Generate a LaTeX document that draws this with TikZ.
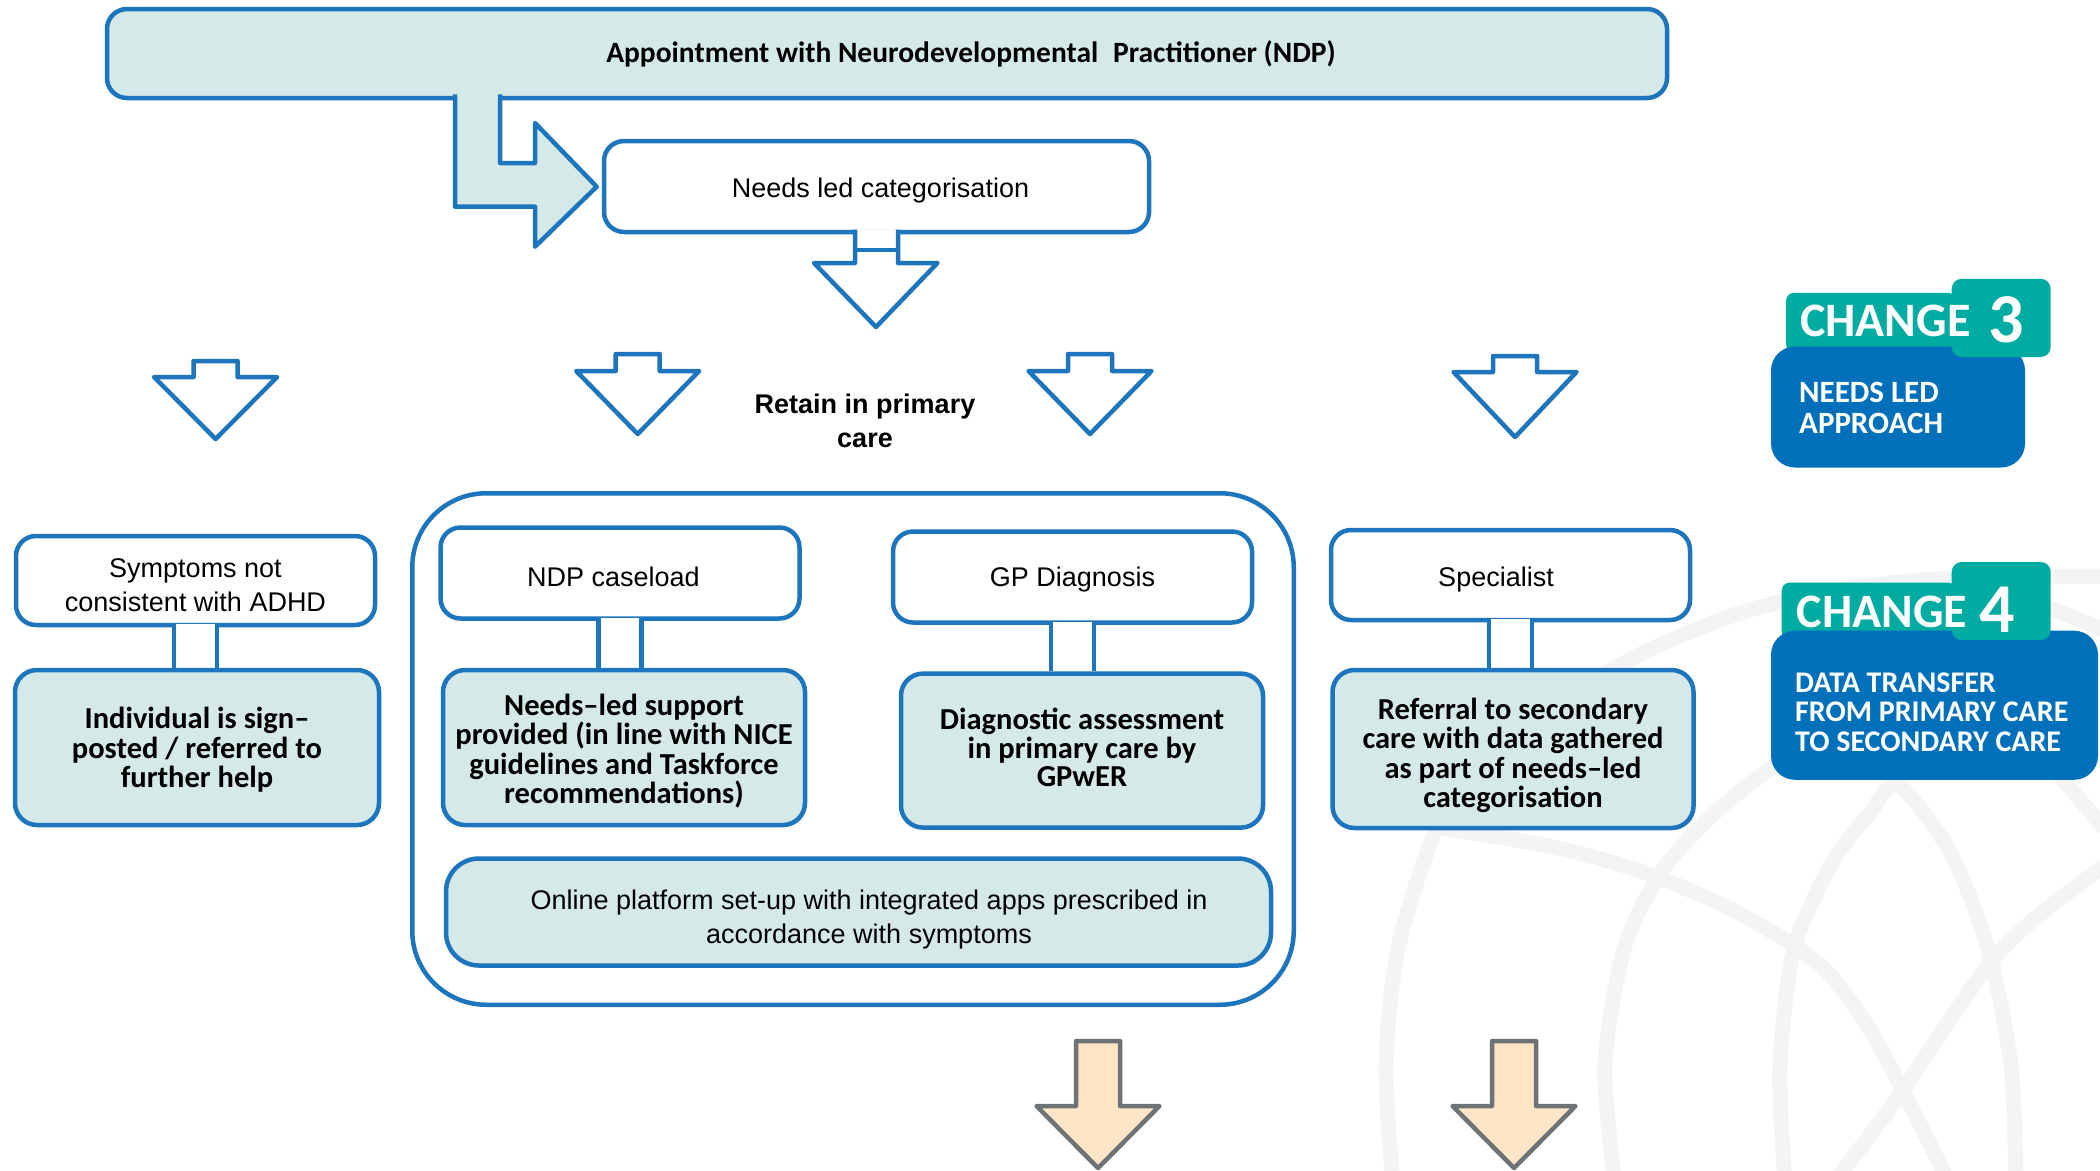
\documentclass[tikz,border=0pt]{standalone}
\usepackage{fontspec}
\setmainfont{Liberation Sans}
\newfontfamily\calib{Carlito}
\usetikzlibrary{calc}

\definecolor{bordblue}{HTML}{1D75BD}
\definecolor{paleteal}{HTML}{D5EAE8}
\definecolor{badgeblue}{HTML}{0070BA}
\definecolor{badgeteal}{HTML}{00ACA2}
\definecolor{peach}{HTML}{FDE6C8}
\definecolor{arrowgray}{HTML}{6E7377}
\definecolor{wmgray}{HTML}{F4F4F4}

\newcommand\plainsize{\fontsize{27}{33.5}\selectfont}
\newcommand\boldsize{\calib\bfseries\fontsize{30.5}{29.5}\selectfont}

% two-sided stem joining a box to the box below it
\newcommand\stem[2]{%
  \coordinate (#1-l) at ($(#1.south)+(-21.5,0)$);
  \coordinate (#1-r) at ($(#1.south)+(21.5,0)$);
  \coordinate (#1-b) at ($(#1-r |- #2.north)+(-2.2,-2.3)$);
  \fill[white] ($(#1-l)+(2.2,-3)$) rectangle (#1-b);
  \draw[outline] (#1-l) -- (#1-l |- #2.north);
  \draw[outline] (#1-r) -- (#1-r |- #2.north);
}

% downward block arrow: style, centre x, top y, head base y, tip y
\newcommand\downblock[5]{%
  \draw[#1] ({#2-22},#3) -- ({#2+22},#3) -- ({#2+22},#4) -- ({#2+61.5},#4)
    -- (#2,#5) -- ({#2-61.5},#4) -- ({#2-22},#4) -- cycle;
}

\begin{document}
\begin{tikzpicture}[x=1pt,y=-1pt,line join=round,
  outline/.style={draw=bordblue,line width=4.5pt},
  plainbox/.style={outline,fill=white,rounded corners=20pt,inner sep=0pt,
    align=center,font=\plainsize,text depth=0pt},
  tealbox/.style={outline,fill=paleteal,rounded corners=22pt,inner sep=0pt,
    align=center,font=\boldsize,text depth=0pt},
  blueblock/.style={outline,fill=white},
  peachblock/.style={draw=arrowgray,line width=4.5pt,fill=peach},
  wm/.style={draw=wmgray,line width=15pt},
  badgetext/.style={text=white,inner sep=0pt,anchor=base west,
    font=\calib\bfseries},
]
\useasboundingbox (0,0) rectangle (2100,1170);

% faint globe emblem in the background
\begin{scope}
  \clip (0,0) rectangle (2100,1170);
  \draw[wm] plot[smooth] coordinates {(1393,1185) (1386,1066) (1398,949)
    (1435,832) (1478,770) (1549,708) (1643,653) (1737,614) (1832,591)
    (1950,578) (2110,576)};
  \draw[wm] plot[smooth] coordinates {(1440,828) (1549,846) (1643,872)
    (1737,912) (1820,965) (1870,1030) (1910,1105) (1950,1185)};
  \draw[wm] plot[smooth] coordinates {(1615,1185) (1605,1066) (1624,949)
    (1662,871) (1719,809) (1790,755) (1860,715)};
  \draw[wm] plot[smooth] coordinates {(1785,1185) (1780,1066) (1794,949)
    (1832,863) (1870,813) (1898,785) (1950,852) (1988,949) (2011,1066)
    (2016,1185)};
  \draw[wm] plot[smooth] coordinates {(2110,862) (2002,949) (1898,1097)
    (1832,1185)};
  \draw[wm] plot[smooth] coordinates {(2055,770) (2080,800) (2110,835)};
  \draw[wm] plot[smooth] coordinates {(1975,588) (2040,605) (2110,632)};
\end{scope}

% appointment box and the bent arrow into the categorisation step
\node[outline,fill=paleteal,rounded corners=20pt,minimum width=1560pt,
  minimum height=89pt] (ndp) at (887,53.5) {};
\node[font=\calib\bfseries\fontsize{29.5}{34}\selectfont,anchor=base,
  inner sep=0pt] (ndptext) at (971,62.5)
  {Appointment with Neurodevelopmental\hspace{0.5em}Practitioner (NDP)};
\draw[outline,fill=paleteal] (455,94.3) -- (455,206.7) -- (535,206.7)
  -- (535,246.7) -- (596.7,186.7) -- (535,123) -- (535,163) -- (500,163)
  -- (500,94.3);

\node[plainbox,minimum width=545pt,minimum height=91pt,text height=21.4pt]
  (needs) at (876.5,186.5) {\hspace*{8pt}Needs led categorisation};
\draw[outline,fill=white] (855,229.5) -- (855,263) -- (814,263) -- (876,327)
  -- (937.5,263) -- (898,263) -- (898,229.5);
\draw[outline] (855,250) -- (898,250);

% the four routes
\downblock{blueblock}{215.6}{361}{377}{439}
\downblock{blueblock}{637.7}{354}{371}{434}
\downblock{blueblock}{1090}{354}{371}{434}
\downblock{blueblock}{1515}{356}{372}{437}

\node[align=center,font=\bfseries\fontsize{27}{34}\selectfont] (retain)
  at (865,421) {Retain in primary\\care};

% primary care group
\node[plainbox,rounded corners=74pt,minimum width=881.5pt,
  minimum height=511.5pt] (primary) at (853,749) {};

\node[plainbox,minimum width=359pt,minimum height=89pt,text height=61pt]
  (sym) at (195.5,580.5) {Symptoms not\\consistent with ADHD};
\node[plainbox,minimum width=359pt,minimum height=91pt,text height=27.8pt]
  (caseload) at (620,573) {NDP caseload\hspace*{13pt}};
\node[plainbox,minimum width=359pt,minimum height=91pt,text height=19.8pt]
  (gp) at (1072.5,577) {GP Diagnosis};
\node[plainbox,minimum width=359pt,minimum height=90pt,text height=23.8pt]
  (spec) at (1510.5,575) {Specialist\hspace*{29pt}};

\node[tealbox,minimum width=364pt,minimum height=155pt,text height=80.6pt]
  (ind) at (197,747.5) {Individual is sign–\\posted / referred to\\further help};
\node[tealbox,minimum width=362pt,minimum height=155pt,text height=112.8pt]
  (support) at (624,747.5) {Needs–led support\\provided (in line with NICE\\guidelines and Taskforce\\recommendations)};
\node[tealbox,minimum width=362pt,minimum height=154pt,text height=71.8pt,
  font=\calib\bfseries\fontsize{30.5}{28.3}\selectfont]
  (diag) at (1082,750.6) {Diagnostic assessment\\in primary care by\\GPwER};
\node[tealbox,minimum width=361pt,minimum height=158pt,text height=117.8pt]
  (refer) at (1513,749) {Referral to secondary\\care with data gathered\\as part of needs–led\\categorisation};

\stem{sym}{ind}
\stem{caseload}{support}
\stem{gp}{diag}
\stem{spec}{refer}

\node[tealbox,rounded corners=33pt,font=\plainsize,minimum width=825pt,
  minimum height=107pt,text height=62.4pt] (online) at (858.5,912)
  {\hspace*{21pt}Online platform set-up with integrated apps prescribed in\\
   \hspace*{21pt}accordance with symptoms};

% onward arrows to secondary care
\downblock{peachblock}{1098}{1041}{1106}{1168}
\downblock{peachblock}{1514}{1041}{1106}{1168}

% change 3 badge
\fill[badgeteal,rounded corners=8pt] (1786,292.8) rectangle (1956,352);
\fill[badgeblue,rounded corners=24pt] (1771,346.5) rectangle (2025,467.5);
\fill[badgeteal,rounded corners=10pt] (1951.7,278.8) rectangle (2050.7,357);
\node[badgetext,font=\calib\bfseries\fontsize{48}{48}\selectfont] (c3word)
  at (1800,336) {CHANGE};
\node[badgetext,font=\calib\bfseries\fontsize{70}{70}\selectfont] (c3num)
  at (1988,342) {3};
\node[badgetext,align=left,font=\calib\bfseries\fontsize{31}{30.4}\selectfont]
  (c3text) at (1799,433) {NEEDS LED\\APPROACH};

% change 4 badge
\fill[badgeteal,rounded corners=8pt] (1781.7,582.6) rectangle (1956,640);
\fill[badgeblue,rounded corners=24pt] (1771,630.7) rectangle (2098,779.8);
\fill[badgeteal,rounded corners=10pt] (1951.7,562) rectangle (2050.7,640);
\node[badgetext,font=\calib\bfseries\fontsize{48}{48}\selectfont] (c4word)
  at (1796.7,627) {CHANGE};
\node[badgetext,font=\calib\bfseries\fontsize{70}{70}\selectfont] (c4num)
  at (1979,632) {4};
\node[badgetext,align=left,font=\calib\bfseries\fontsize{30}{29.5}\selectfont]
  (c4text) at (1795,751) {DATA TRANSFER\\FROM PRIMARY CARE\\TO SECONDARY CARE};
\end{tikzpicture}
\end{document}
